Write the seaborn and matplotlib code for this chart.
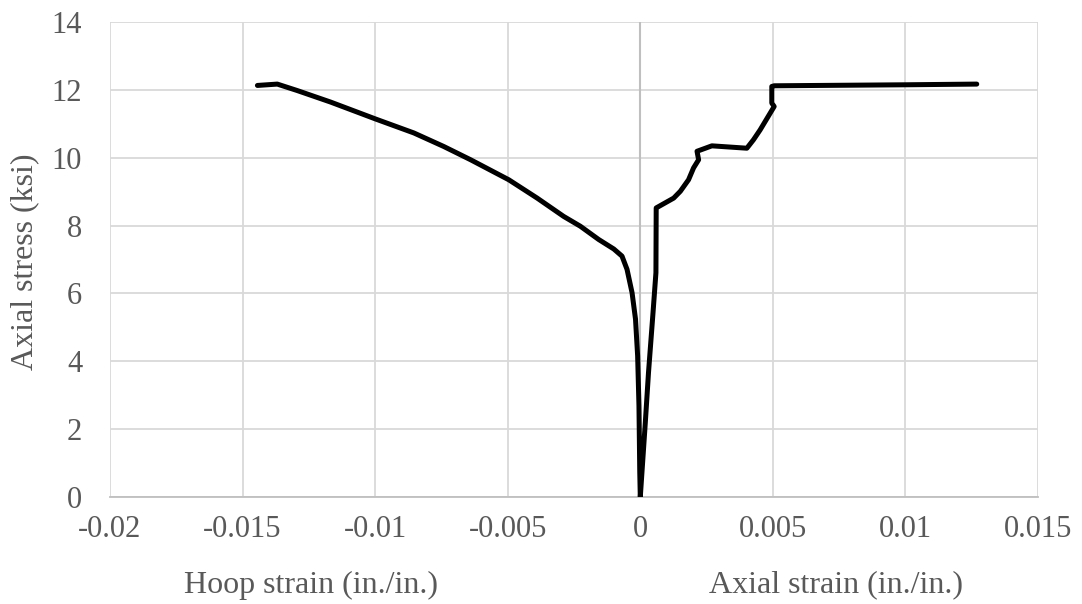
import numpy as np
import pandas as pd
import matplotlib
matplotlib.use("Agg")
import matplotlib.pyplot as plt
import seaborn as sns

# Hoop strain branch (from peak load back down to the origin)
hoop_strain = [-0.01444, -0.01369, -0.01294, -0.01168, -0.00998, -0.00854, -0.00741,
               -0.00640, -0.00496, -0.00389, -0.00289, -0.00226, -0.00157, -0.00100,
               -0.00069, -0.00050, -0.00031, -0.00018, -0.00010, -0.00005, -0.00002, 0.0]
hoop_stress = [12.13, 12.17, 11.98, 11.64, 11.14, 10.73, 10.33,
               9.94, 9.35, 8.81, 8.27, 7.98, 7.59, 7.31,
               7.10, 6.71, 6.02, 5.24, 4.16, 2.69, 0.74, 0.0]

# Axial strain branch (from the origin up to peak load)
axial_strain = [0.0, 0.00019, 0.00031, 0.00048, 0.00059, 0.00060, 0.00126, 0.00151,
                0.00182, 0.00201, 0.00220, 0.00214, 0.00270, 0.00402, 0.00427,
                0.00452, 0.00505, 0.00496, 0.00496, 0.00505, 0.01005, 0.01269]
axial_stress = [0.0, 2.20, 3.67, 5.43, 6.61, 8.52, 8.81, 9.01,
                9.35, 9.70, 9.94, 10.19, 10.35, 10.28, 10.53,
                10.82, 11.51, 11.61, 12.10, 12.12, 12.15, 12.17]

x_ticks = [-0.02, -0.015, -0.01, -0.005, 0, 0.005, 0.01, 0.015]
x_tick_labels = ["-0.02", "-0.015", "-0.01", "-0.005", "0", "0.005", "0.01", "0.015"]
y_ticks = [0, 2, 4, 6, 8, 10, 12, 14]

curve = pd.DataFrame({
    "strain": hoop_strain + axial_strain,
    "stress": hoop_stress + axial_stress,
})

sns.set_theme(style="white")
plt.rcParams["font.family"] = ["Liberation Serif", "DejaVu Serif"]

W, H = 1082, 604
fig = plt.figure(figsize=(W / 100, H / 100), dpi=100)
ax = fig.add_axes([110 / W, 1 - 497 / H, 928 / W, 475 / H])

sns.lineplot(data=curve, x="strain", y="stress", sort=False, estimator=None,
             color="black", linewidth=3.6, ax=ax, zorder=3)

ax.set_xlim(-0.02, 0.015)
ax.set_ylim(0, 14)
ax.set_xticks(x_ticks)
ax.set_xticklabels(x_tick_labels)
ax.set_yticks(y_ticks)

grid_color = "#d9d9d9"
ax.grid(True, color=grid_color, linewidth=1.3)
ax.set_axisbelow(True)
for side in ["top", "right", "left"]:
    ax.spines[side].set_visible(False)
ax.spines["bottom"].set_color("#bfbfbf")
ax.spines["bottom"].set_linewidth(1.3)
# vertical value axis crossing at zero strain
ax.axvline(0, color="#bfbfbf", linewidth=1.5, zorder=2)

label_color = "#595959"
ax.tick_params(axis="both", length=0, labelsize=22, labelcolor=label_color)
ax.tick_params(axis="y", pad=20)
ax.tick_params(axis="x", pad=13)

ax.set_xlabel("")
ax.set_ylabel("")

fig.text(25 / W, 1 - 262 / H, "Axial stress (ksi)", rotation=90, ha="center", va="center",
         fontsize=23, color=label_color)
fig.text(311 / W, 1 - 585 / H, "Hoop strain (in./in.)", ha="center", va="center",
         fontsize=23, color=label_color)
fig.text(836 / W, 1 - 585 / H, "Axial strain (in./in.)", ha="center", va="center",
         fontsize=23, color=label_color)

fig.savefig("out.png", dpi=100, facecolor="white")
